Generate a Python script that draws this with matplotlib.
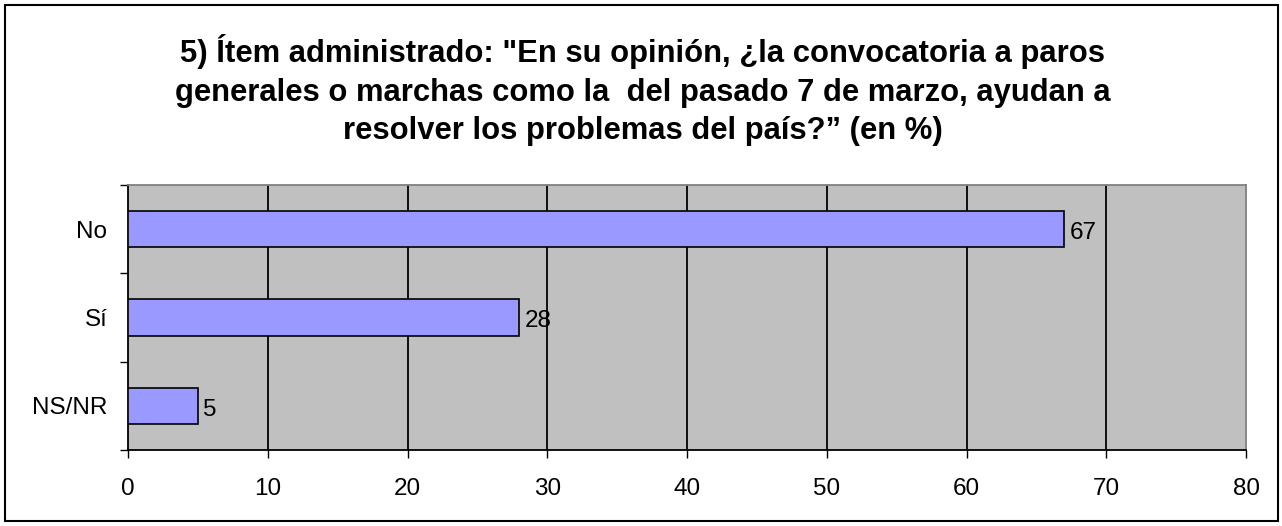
import matplotlib
matplotlib.use("Agg")
import matplotlib.pyplot as plt
from matplotlib.patches import Rectangle

categories = ["No", "Sí", "NS/NR"]
values = [67, 28, 5]
xticks = [0, 10, 20, 30, 40, 50, 60, 70, 80]
title = ('5) Ítem administrado: "En su opinión, ¿la convocatoria a paros\n'
         'generales o marchas como la  del pasado 7 de marzo, ayudan a\n'
         'resolver los problemas del país?” (en %)')

plt.rcParams['font.family'] = ['Liberation Sans', 'DejaVu Sans']

W, H = 1282, 526
fig = plt.figure(figsize=(W / 100, H / 100), dpi=100)
fig.patch.set_facecolor('white')

# outer border
fig.add_artist(Rectangle((5 / W, 5 / H), (1278 - 5) / W, (521 - 5) / H,
                         transform=fig.transFigure, fill=False,
                         edgecolor='black', linewidth=1.5))

left, right, top, bottom = 128, 1246, 185, 450
ax = fig.add_axes([left / W, 1 - bottom / H, (right - left) / W, (bottom - top) / H])
ax.set_facecolor('#C0C0C0')

n = len(categories)
ypos = list(range(n))[::-1]
ax.barh(ypos, values, height=0.41, color='#9999FF', edgecolor='black',
        linewidth=1.2, zorder=3)
for y, v in zip(ypos, values):
    ax.text(v + 0.4, y - 0.045, str(v), va='center', ha='left', fontsize=17.5, zorder=4)

ax.set_xlim(0, 80)
ax.set_ylim(-0.5, n - 0.5)
ax.set_xticks(xticks)
ax.set_xticklabels([str(t) for t in xticks], fontsize=17.5)
ax.set_yticks(ypos)
ax.set_yticklabels(categories, fontsize=17.5)
ax.set_yticks([i - 0.5 for i in range(n + 1)], minor=True)
ax.tick_params(axis='y', which='major', length=0, pad=15)
ax.tick_params(axis='y', which='minor', length=6, width=1, direction='out')
ax.tick_params(axis='x', length=6, width=1, direction='out', pad=14.5)

for t in xticks[1:-1]:
    ax.axvline(t, color='black', linewidth=1.3, zorder=2)

for s in ['top', 'right']:
    ax.spines[s].set_color('#808080')
    ax.spines[s].set_linewidth(1.3)
for s in ['left', 'bottom']:
    ax.spines[s].set_color('black')
    ax.spines[s].set_linewidth(1.3)

fig.text(643 / W, 1 - 90 / H, title, ha='center', va='center',
         fontsize=22.3, fontweight='bold', linespacing=1.37)

fig.savefig('out.png', dpi=100)
